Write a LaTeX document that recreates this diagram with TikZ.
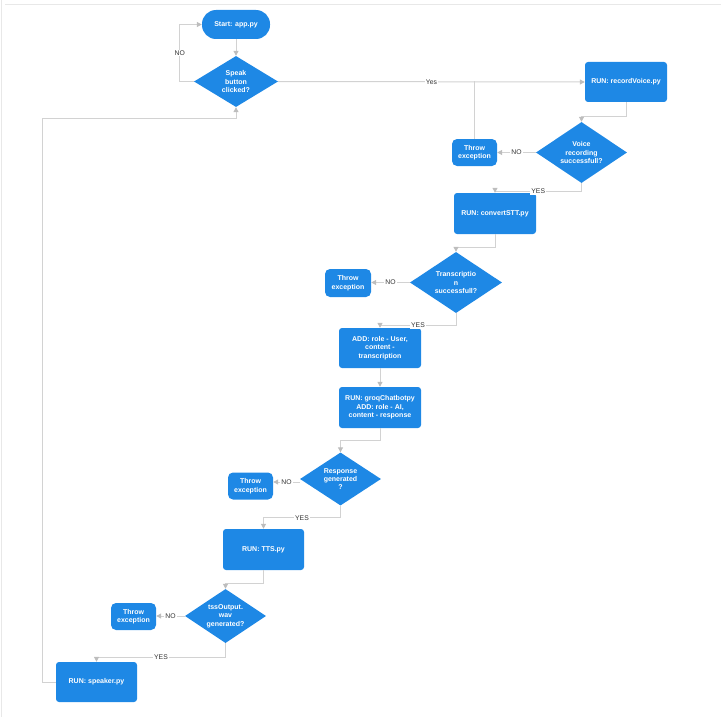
\documentclass[tikz,border=0pt]{standalone}
\usepackage{fontspec}
\setmainfont{Liberation Sans}
\usetikzlibrary{shapes.geometric,arrows.meta}
\definecolor{flowblue}{HTML}{1E88E5}
\definecolor{wire}{HTML}{D2D2D2}
\definecolor{tipgray}{HTML}{BDBDBD}
\definecolor{labelgray}{HTML}{333333}
\definecolor{edgegray}{HTML}{E8E8E8}
\tikzset{
  boxfont/.style={font=\bfseries\fontsize{7}{8.4}\selectfont},
  proc/.style={rectangle, rounded corners=3pt, fill=flowblue, text=white, boxfont, align=center, inner sep=0pt},
  startbox/.style={proc, rounded corners=14pt, minimum width=68pt, minimum height=29pt},
  runbox/.style={proc, minimum width=81pt, minimum height=40pt},
  errbox/.style={proc, rounded corners=5pt, minimum width=45pt, minimum height=27pt},
  decision/.style={diamond, fill=flowblue, inner sep=0pt},
  dtext/.style={text=white, boxfont, align=center, inner sep=0pt},
  flow/.style={draw=wire, line width=1pt, -{Triangle[length=5pt,width=5pt,color=tipgray]}},
  plain/.style={draw=wire, line width=1pt},
  lbl/.style={fill=white, inner sep=1pt, text=labelgray, font=\fontsize{6.8}{7}\selectfont},
}
\begin{document}
\begin{tikzpicture}[x=1pt,y=-1pt]
\useasboundingbox (0,0) rectangle (721,717);
% faint page edges
\draw[edgegray, line width=0.8pt] (1,0) -- (1,717);
\draw[edgegray, line width=0.8pt] (5,4) -- (721,4);

% nodes
\node[startbox] (start) at (236,24.5) {Start: app.py};
\node[decision, minimum width=84pt, minimum height=51pt,
      label={[dtext]center:Speak\\button\\clicked?}] (speak) at (236,81.5) {};
\node[runbox, minimum width=82pt] (rec) at (626,82) {RUN: recordVoice.py};
\node[decision, minimum width=91pt, minimum height=61pt,
      label={[dtext]center:Voice\\recording\\successfull?}] (voice) at (581.5,152.5) {};
\node[errbox] (thr1) at (474.5,152.5) {Throw\\exception};
\node[runbox, minimum width=82pt, minimum height=41pt] (stt) at (495,213.5) {RUN: convertSTT.py};
\node[decision, minimum width=92pt, minimum height=61pt,
      label={[dtext]center:Transcriptio\\n\\successfull?}] (trans) at (456,282.5) {};
\node[errbox, minimum width=46pt, minimum height=28pt] (thr2) at (348,283) {Throw\\exception};
\node[runbox, minimum width=82pt] (add) at (380,348) {ADD: role - User,\\content -\\transcription};
\node[runbox, minimum width=82pt, minimum height=41pt] (groq) at (380,407.5) {RUN: groqChatbotpy\\ADD: role - AI,\\content - response};
\node[decision, minimum width=81pt, minimum height=53pt,
      label={[dtext]center:Response\\generated\\?}] (resp) at (340.5,479) {};
\node[errbox] (thr3) at (250.5,486) {Throw\\exception};
\node[runbox, minimum height=41pt] (tts) at (263.5,549.5) {RUN: TTS.py};
\node[decision, minimum width=81pt, minimum height=54pt,
      label={[dtext]center:tssOutput.\\wav\\generated?}] (ttsq) at (225.5,616) {};
\node[errbox] (thr4) at (133.5,616.5) {Throw\\exception};
\node[runbox] (spk) at (96.5,682) {RUN: speaker.py};

% connectors
\draw[flow] (start.south) -- (speak.north);
\draw[flow] (speak.west) -- ++(-14,0) |- node[lbl, pos=0.25] {NO} (start.west);
\draw[flow] (speak.east) -- node[lbl] {Yes} (rec.west);
\draw[flow] (rec.south) -- ++(0,14) -| (voice.north);
\draw[flow] (voice.west) -- node[lbl] {NO} (voice.west -| thr1.east);
\draw[plain] (thr1.north) -- (thr1.north |- speak.east);
\draw[flow] (voice.south) -- ++(0,8) -| node[lbl, pos=0.25] {YES} (stt.north);
\draw[flow] (stt.south) -- ++(0,13) -| (trans.north);
\draw[flow] (trans.west) -- node[lbl] {NO} (trans.west -| thr2.east);
\draw[flow] (trans.south) -- ++(0,12) -| node[lbl, pos=0.25] {YES} (add.north);
\draw[flow] (add.south) -- (groq.north);
\draw[flow] (groq.south) -- ++(0,12) -| (resp.north);
\draw[flow] ([yshift=-3pt]resp.west) -- node[lbl] {NO} ([yshift=-3pt]resp.west -| thr3.east);
\draw[flow] (resp.south) -- ++(0,12) -| node[lbl, pos=0.25] {YES} (tts.north);
\draw[flow] (tts.south) -- ++(0,13) -| (ttsq.north);
\draw[flow] (ttsq.west) -- node[lbl] {NO} (ttsq.west -| thr4.east);
\draw[flow] (ttsq.south) -- ++(0,14) -| node[lbl, pos=0.25] {YES} (spk.north);
\draw[flow] (spk.west) -- ++(-13,0) |- ([yshift=-11pt]speak.south) -- (speak.south);
\end{tikzpicture}
\end{document}
